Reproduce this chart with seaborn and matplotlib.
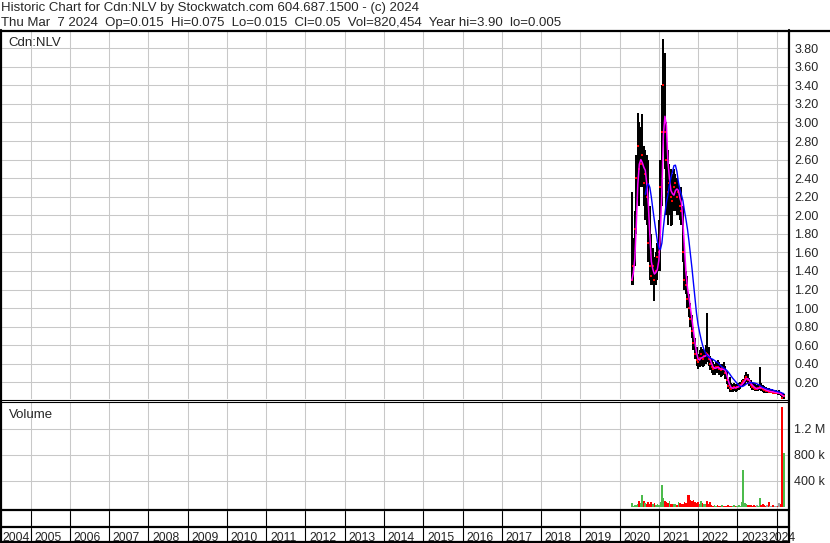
import pandas as pd
import matplotlib
matplotlib.use("Agg")
import matplotlib.pyplot as plt
import seaborn as sns

# --- data: two-week bars (Cdn:NLV) ---
PRICE_HIGH = [
    2.25, 1.75, 2.05, 2.65, 3.10, 3.00, 2.95, 3.09, 2.75, 2.70,
    2.65, 2.60, 2.10, 1.80, 1.65, 1.55, 1.60, 1.70, 1.95, 2.60,
    3.40, 3.90, 3.75, 3.00, 2.70, 2.55, 2.50, 2.45, 2.50, 2.45,
    2.40, 2.35, 2.30, 2.30, 2.10, 1.70, 1.40, 1.35, 1.15, 1.05,
    0.92, 0.80, 0.68, 0.58, 0.50, 0.55, 0.58, 0.56, 0.55, 0.60,
    0.95, 0.58, 0.48, 0.45, 0.42, 0.40, 0.42, 0.44, 0.42, 0.40,
    0.40, 0.42, 0.38, 0.32, 0.24, 0.26, 0.19, 0.18, 0.19, 0.18,
    0.18, 0.19, 0.20, 0.22, 0.24, 0.28, 0.31, 0.29, 0.25, 0.22,
    0.20, 0.19, 0.18, 0.17, 0.18, 0.36, 0.19, 0.17, 0.16, 0.15,
    0.14, 0.14, 0.13, 0.13, 0.12, 0.12, 0.12, 0.11, 0.12, 0.10,
    0.08, 0.075,
]
PRICE_LOW = [
    1.25, 1.25, 1.45, 1.80, 2.20, 2.10, 2.30, 2.30, 2.10, 1.95,
    1.90, 1.50, 1.30, 1.25, 1.25, 1.08, 1.25, 1.30, 1.40, 1.40,
    2.10, 2.80, 2.50, 2.00, 1.90, 2.00, 1.88, 1.90, 2.05, 2.05,
    2.00, 2.00, 1.95, 1.90, 1.50, 1.20, 1.15, 1.00, 0.90, 0.80,
    0.68, 0.55, 0.45, 0.38, 0.34, 0.36, 0.38, 0.36, 0.38, 0.40,
    0.42, 0.38, 0.33, 0.30, 0.28, 0.28, 0.30, 0.30, 0.28, 0.26,
    0.27, 0.28, 0.24, 0.18, 0.13, 0.10, 0.10, 0.10, 0.11, 0.10,
    0.11, 0.12, 0.13, 0.15, 0.16, 0.17, 0.20, 0.18, 0.16, 0.14,
    0.12, 0.12, 0.11, 0.11, 0.11, 0.12, 0.11, 0.10, 0.09, 0.09,
    0.08, 0.08, 0.08, 0.08, 0.07, 0.07, 0.07, 0.06, 0.06, 0.05,
    0.02, 0.015,
]
PRICE_CLOSE = [
    1.30, 1.45, 1.85, 2.40, 2.75, 2.50, 2.55, 2.65, 2.35, 2.45,
    2.20, 1.70, 1.45, 1.35, 1.45, 1.30, 1.40, 1.55, 1.60, 2.30,
    2.90, 3.40, 2.90, 2.60, 2.25, 2.35, 2.20, 2.15, 2.30, 2.35,
    2.20, 2.25, 2.10, 2.05, 1.60, 1.30, 1.25, 1.10, 1.00, 0.88,
    0.75, 0.62, 0.50, 0.44, 0.42, 0.46, 0.50, 0.45, 0.48, 0.52,
    0.50, 0.45, 0.40, 0.36, 0.34, 0.35, 0.37, 0.36, 0.34, 0.33,
    0.35, 0.34, 0.30, 0.22, 0.16, 0.14, 0.13, 0.14, 0.15, 0.14,
    0.15, 0.16, 0.17, 0.19, 0.21, 0.24, 0.26, 0.22, 0.19, 0.17,
    0.15, 0.14, 0.13, 0.13, 0.14, 0.15, 0.14, 0.13, 0.12, 0.11,
    0.11, 0.10, 0.10, 0.10, 0.09, 0.09, 0.09, 0.08, 0.08, 0.07,
    0.03, 0.05,
]
VOLUME = [
    55e3, 20e3, 30e3, 25e3, 40e3, 90e3, 60e3, 190e3, 90e3, 60e3,
    40e3, 80e3, 50e3, 80e3, 45e3, 60e3, 30e3, 40e3, 35e3, 80e3,
    330e3, 130e3, 90e3, 80e3, 60e3, 90e3, 40e3, 50e3, 45e3, 40e3,
    35e3, 80e3, 60e3, 50e3, 45e3, 70e3, 60e3, 190e3, 185e3, 110e3,
    90e3, 100e3, 70e3, 55e3, 75e3, 50e3, 90e3, 60e3, 45e3, 40e3,
    85e3, 50e3, 75e3, 30e3, 20e3, 25e3, 15e3, 30e3, 20e3, 15e3,
    25e3, 20e3, 15e3, 20e3, 25e3, 15e3, 20e3, 10e3, 25e3, 15e3,
    20e3, 30e3, 20e3, 75e3, 565e3, 60e3, 40e3, 35e3, 30e3, 25e3,
    20e3, 30e3, 20e3, 25e3, 20e3, 130e3, 30e3, 45e3, 25e3, 20e3,
    30e3, 75e3, 20e3, 15e3, 25e3, 20e3, 15e3, 20e3, 60e3, 40e3,
    1530e3, 820e3,
]
LAST_DAY = "2024-03-07"
YEARS = list(range(2004, 2025))
PRICE_TICKS = [0.20, 0.40, 0.60, 0.80, 1.00, 1.20, 1.40, 1.60, 1.80, 2.00,
               2.20, 2.40, 2.60, 2.80, 3.00, 3.20, 3.40, 3.60, 3.80]
VOLUME_TICKS = [400e3, 800e3, 1200e3]
VOLUME_LABELS = ["400 k", "800 k", "1.2 M"]
HEADER_1 = "Historic Chart for Cdn:NLV by Stockwatch.com 604.687.1500 - (c) 2024"
HEADER_2 = ("Thu Mar  7 2024  Op=0.015  Hi=0.075  Lo=0.015  Cl=0.05  "
            "Vol=820,454  Year hi=3.90  lo=0.005")

# --- styling ---
W, H = 830, 543
GRID = "#c8c8c8"
GREEN = "#4cbb4c"
sns.set_style("white")
plt.rcParams["font.family"] = ["Liberation Sans", "DejaVu Sans"]
plt.rcParams["font.size"] = 9


def px_box(left, top, right, bottom):
    return [left / W, 1 - bottom / H, (right - left) / W, (bottom - top) / H]


df = pd.DataFrame({
    "date": pd.date_range(end=LAST_DAY, periods=len(PRICE_CLOSE), freq="14D"),
    "high": PRICE_HIGH, "low": PRICE_LOW, "close": PRICE_CLOSE, "volume": VOLUME,
})
df["ma_short"] = df["close"].rolling(3, min_periods=1).mean()
df["ma_long"] = df["close"].rolling(10).mean()
chg = df["close"].diff().fillna(1)
df["vcolor"] = [GREEN if c > 0 else ("red" if c < 0 else "#a0a0a0") for c in chg]

x_left = pd.Timestamp("2004-04-09")
x_right = pd.Timestamp("2024-04-15")
year_starts = [pd.Timestamp(f"{y}-01-01") for y in YEARS[1:]]

fig = plt.figure(figsize=(W / 100, H / 100), dpi=100)

# price panel
ax = fig.add_axes(px_box(2, 31, 788, 399))
ax.vlines(df["date"], df["low"], df["high"], color="black", lw=1.1,
          antialiased=False, zorder=2)
sns.scatterplot(data=df, x="date", y="close", ax=ax, color="red", marker="s",
                s=2.5, linewidth=0, zorder=3)
sns.lineplot(data=df, x="date", y="ma_short", ax=ax, color="#ff00ff", lw=1.1, zorder=4)
sns.lineplot(data=df, x="date", y="ma_long", ax=ax, color="#0000ff", lw=1.0, zorder=5)
ax.set_xlim(x_left, x_right)
ax.set_ylim(0.02, 3.986)
ax.set_yticks(PRICE_TICKS, [f"{t:.2f}" for t in PRICE_TICKS])
ax.set_xticks(year_starts)
ax.tick_params(axis="x", labelbottom=False, length=0)
ax.tick_params(axis="y", left=False, labelleft=False, right=False, labelright=True,
               length=0, pad=4.5, labelsize=9)
ax.grid(True, color=GRID, lw=0.75)
ax.set_axisbelow(True)
ax.set_xlabel("")
ax.set_ylabel("")
for s in ax.spines.values():
    s.set_visible(False)

# volume panel
axv = fig.add_axes(px_box(2, 402, 788, 509.5))
axv.bar(df["date"], df["volume"], width=16, color=df["vcolor"], linewidth=0,
        antialiased=False, zorder=2)
axv.set_xlim(x_left, x_right)
axv.set_ylim(-40e3, 1.61e6)
axv.set_yticks(VOLUME_TICKS, VOLUME_LABELS)
axv.set_xticks(year_starts)
axv.tick_params(axis="x", labelbottom=False, length=0)
axv.tick_params(axis="y", left=False, labelleft=False, right=False, labelright=True,
                length=0, pad=4.5, labelsize=9)
axv.grid(True, color=GRID, lw=0.75)
axv.set_axisbelow(True)
for s in axv.spines.values():
    s.set_visible(False)

# strip under volume and the year row
axs = fig.add_axes(px_box(2, 511, 788, 526.5))
axy = fig.add_axes(px_box(2, 528, 788, 542))
for a in (axs, axy):
    a.set_xlim(x_left, x_right)
    a.set_ylim(0, 1)
    a.axis("off")
    for d in year_starts:
        a.axvline(d, color="black", lw=0.8)

for y in YEARS:
    lo = max(pd.Timestamp(f"{y}-01-01"), x_left)
    hi = min(pd.Timestamp(f"{y + 1}-01-01"), x_right)
    mid = lo + (hi - lo) / 2
    if hi - lo > pd.Timedelta(days=300):
        mid -= pd.Timedelta(days=22)
    axy.text(mid, 0.08, str(y), ha="center", va="baseline", fontsize=8.8,
             clip_on=False)

# frame and header
fr = fig.add_axes([0, 0, 1, 1])
fr.set_xlim(0, W)
fr.set_ylim(H, 0)
fr.axis("off")
fr.patch.set_alpha(0)
fr.plot([0, W], [30.5, 30.5], color="black", lw=1.6)
fr.plot([1, 1], [30, H], color="black", lw=1.6)
fr.plot([789, 789], [30, H], color="black", lw=1.6)
fr.plot([0, 789], [400, 400], color="black", lw=0.8)
fr.plot([0, 789], [402.2, 402.2], color="black", lw=0.8)
fr.plot([0, 789], [510.2, 510.2], color="black", lw=1.6)
fr.plot([0, 789], [527, 527], color="black", lw=1.6)
fr.plot([0, 789], [542.2, 542.2], color="black", lw=1.6)
fr.text(1, 11.5, HEADER_1, fontsize=9.5, va="baseline")
fr.text(1, 26, HEADER_2, fontsize=9.5, va="baseline")
fr.text(8, 45.5, "Cdn:NLV", fontsize=9.5, va="baseline")
fr.text(9, 417.5, "Volume", fontsize=9.5, va="baseline")

fig.savefig("out.png", dpi=100)
